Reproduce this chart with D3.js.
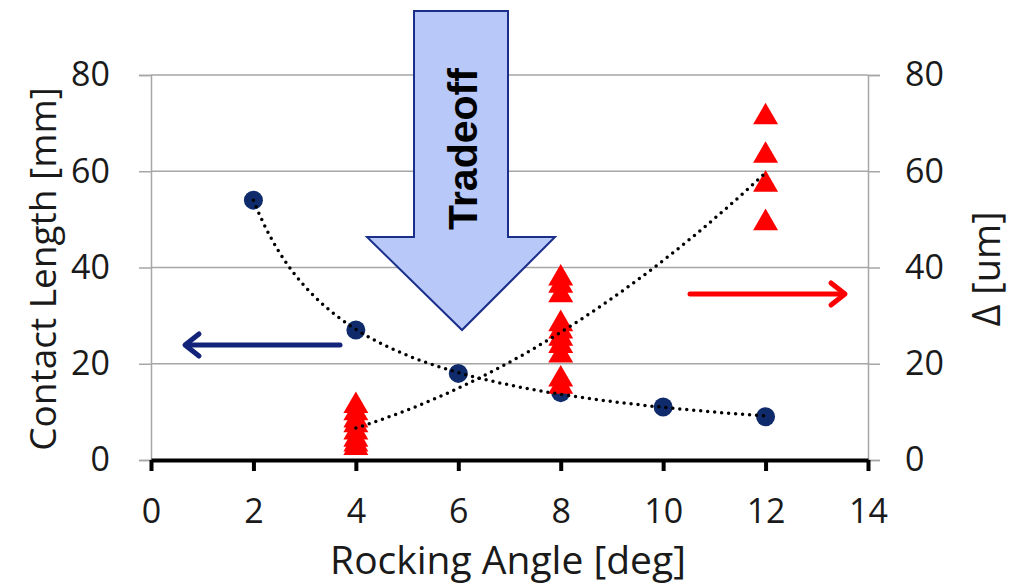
<!DOCTYPE html>
<html>
<head>
<meta charset="utf-8">
<script src="https://cdn.jsdelivr.net/npm/d3@7"></script>
<style>
  body { margin: 0; background: #fff; }
  svg { display: block; font-family: "Open Sans", sans-serif; }
</style>
</head>
<body>
<svg id="chart" width="1018" height="586"></svg>
<script>
// contact length (left axis) vs rocking angle
var angles = [2, 4, 6, 8, 10, 12];
var contactLength = [54, 27, 18, 14, 11, 9];

// delta (right axis), several samples per angle
var deltaAngles = [4, 8, 12];
var delta4 = [12, 10.5, 9, 8, 6.5, 5, 4, 3.3];
var delta8 = [38.5, 37, 35, 29, 27.5, 26, 24.5, 22.5, 17.5, 16];
var delta12 = [72, 64, 58, 50];

var xTicks = [0, 2, 4, 6, 8, 10, 12, 14];
var yTicks = [0, 20, 40, 60, 80];

var svg = d3.select("#chart");

var x = d3.scaleLinear().domain([0, 14]).range([151, 868]);
var yL = d3.scaleLinear().domain([0, 80]).range([460, 75]);
var yR = d3.scaleLinear().domain([0, 80]).range([460, 75]);

var grey = "#a6a6a6";
var tickFont = 34;

// gridlines
svg.append("g")
  .selectAll("line")
  .data(yTicks.slice(1))
  .enter().append("line")
    .attr("x1", x(0)).attr("x2", x(14))
    .attr("y1", function(d) { return yL(d); })
    .attr("y2", function(d) { return yL(d); })
    .attr("stroke", grey).attr("stroke-width", 1.5);

// left axis
var gL = svg.append("g")
  .attr("transform", "translate(" + x(0) + ",0)")
  .call(d3.axisLeft(yL).tickValues(yTicks).tickSize(12).tickPadding(29));
gL.select(".domain").attr("stroke", grey).attr("stroke-width", 1.5);
gL.selectAll(".tick line").attr("stroke", grey).attr("stroke-width", 1.5);
gL.selectAll(".tick text").attr("font-size", tickFont).attr("fill", "#1a1a1a")
  .attr("font-family", "Open Sans, sans-serif");

// right axis
var gR = svg.append("g")
  .attr("transform", "translate(" + x(14) + ",0)")
  .call(d3.axisRight(yR).tickValues(yTicks).tickSize(12).tickPadding(25));
gR.select(".domain").attr("stroke", grey).attr("stroke-width", 1.5);
gR.selectAll(".tick line").attr("stroke", grey).attr("stroke-width", 1.5);
gR.selectAll(".tick text").attr("font-size", tickFont).attr("fill", "#1a1a1a")
  .attr("font-family", "Open Sans, sans-serif");

// bottom axis
var gB = svg.append("g")
  .attr("transform", "translate(0," + yL(0) + ")")
  .call(d3.axisBottom(x).tickValues(xTicks).tickSize(11).tickSizeOuter(0).tickPadding(28));
gB.select(".domain").attr("stroke", "#000").attr("stroke-width", 4);
gB.selectAll(".tick line").attr("stroke", "#000").attr("stroke-width", 4);
gB.selectAll(".tick text").attr("font-size", tickFont).attr("fill", "#1a1a1a")
  .attr("font-family", "Open Sans, sans-serif");

// Tradeoff arrow (annotation)
var arrow = svg.append("g");
arrow.append("path")
  .attr("d", "M414,11 L508,11 L508,237 L555,237 L462,330 L367,237 L414,237 Z")
  .attr("fill", "#b8c8f8").attr("stroke", "#1a2f8a").attr("stroke-width", 2)
  .attr("stroke-linejoin", "miter");
arrow.append("text")
  .attr("transform", "translate(477,149) rotate(-90)")
  .attr("text-anchor", "middle")
  .attr("font-family", "Liberation Sans, Arial, sans-serif")
  .attr("font-weight", "bold")
  .attr("font-size", 41)
  .attr("fill", "#000")
  .text("Tradeoff");

// markers
svg.append("g")
  .selectAll("circle")
  .data(angles.map(function(a, i) { return {x: a, y: contactLength[i]}; }))
  .enter().append("circle")
    .attr("cx", function(d) { return x(d.x); })
    .attr("cy", function(d) { return yL(d.y); })
    .attr("r", 9.5)
    .attr("fill", "#0f2b6b");

var deltaGroups = [delta4, delta8, delta12];
var deltaPts = [];
deltaGroups.forEach(function(g, i) {
  g.forEach(function(v) { deltaPts.push({x: deltaAngles[i], y: v}); });
});

var triSize = 270;
var triOff = Math.sqrt(triSize / (3 * Math.sqrt(3))) / 2;
svg.append("g")
  .selectAll("path")
  .data(deltaPts)
  .enter().append("path")
    .attr("d", d3.symbol().type(d3.symbolTriangle).size(triSize))
    .attr("transform", function(d) { return "translate(" + x(d.x) + "," + (yR(d.y) + triOff) + ")"; })
    .attr("fill", "#ff0000");

// power trendlines y = a * x^b (least squares in log space)
function powerFit(pts) {
  var n = pts.length, sx = 0, sy = 0, sxx = 0, sxy = 0;
  pts.forEach(function(p) {
    var lx = Math.log(p.x), ly = Math.log(p.y);
    sx += lx; sy += ly; sxx += lx * lx; sxy += lx * ly;
  });
  var b = (n * sxy - sx * sy) / (n * sxx - sx * sx);
  var a = Math.exp((sy - b * sx) / n);
  return function(v) { return a * Math.pow(v, b); };
}

var fitL = powerFit(angles.map(function(a, i) { return {x: a, y: contactLength[i]}; }));
var fitR = powerFit(deltaPts);

function trend(fn, x0, x1, yScale) {
  var xs = d3.range(0, 101).map(function(i) { return x0 + (x1 - x0) * i / 100; });
  svg.append("path")
    .datum(xs)
    .attr("d", d3.line().x(function(v) { return x(v); }).y(function(v) { return yScale(fn(v)); }))
    .attr("fill", "none").attr("stroke", "#000")
    .attr("stroke-width", 3.5).attr("stroke-linecap", "round")
    .attr("stroke-dasharray", "0 7");
}
trend(fitL, d3.min(angles), d3.max(angles), yL);
trend(fitR, d3.min(deltaAngles), d3.max(deltaAngles), yR);

// direction arrows
function sideArrow(x1, x2, yy, color) {
  var dir = x2 > x1 ? 1 : -1;
  var g = svg.append("g").attr("stroke", color).attr("stroke-width", 5)
    .attr("fill", "none").attr("stroke-linecap", "round").attr("stroke-linejoin", "round");
  g.append("line").attr("x1", x1).attr("x2", x2 - dir * 2).attr("y1", yy).attr("y2", yy);
  g.append("path").attr("d", "M" + (x2 - dir * 14) + "," + (yy - 11) + " L" + x2 + "," + yy + " L" + (x2 - dir * 14) + "," + (yy + 11));
}
sideArrow(340, 185, 345, "#13237a");
sideArrow(690, 845, 294, "#ff0000");

// axis titles
svg.append("text")
  .attr("transform", "translate(56,269) rotate(-90)")
  .attr("text-anchor", "middle")
  .attr("font-size", 37).attr("fill", "#1a1a1a")
  .text("Contact Length [mm]");
svg.append("text")
  .attr("transform", "translate(1000,269) rotate(-90)")
  .attr("text-anchor", "middle")
  .attr("font-size", 38).attr("fill", "#1a1a1a")
  .text("Δ [um]");
svg.append("text")
  .attr("x", 508).attr("y", 574)
  .attr("text-anchor", "middle")
  .attr("font-size", 39).attr("fill", "#1a1a1a")
  .text("Rocking Angle [deg]");
</script>
</body>
</html>
